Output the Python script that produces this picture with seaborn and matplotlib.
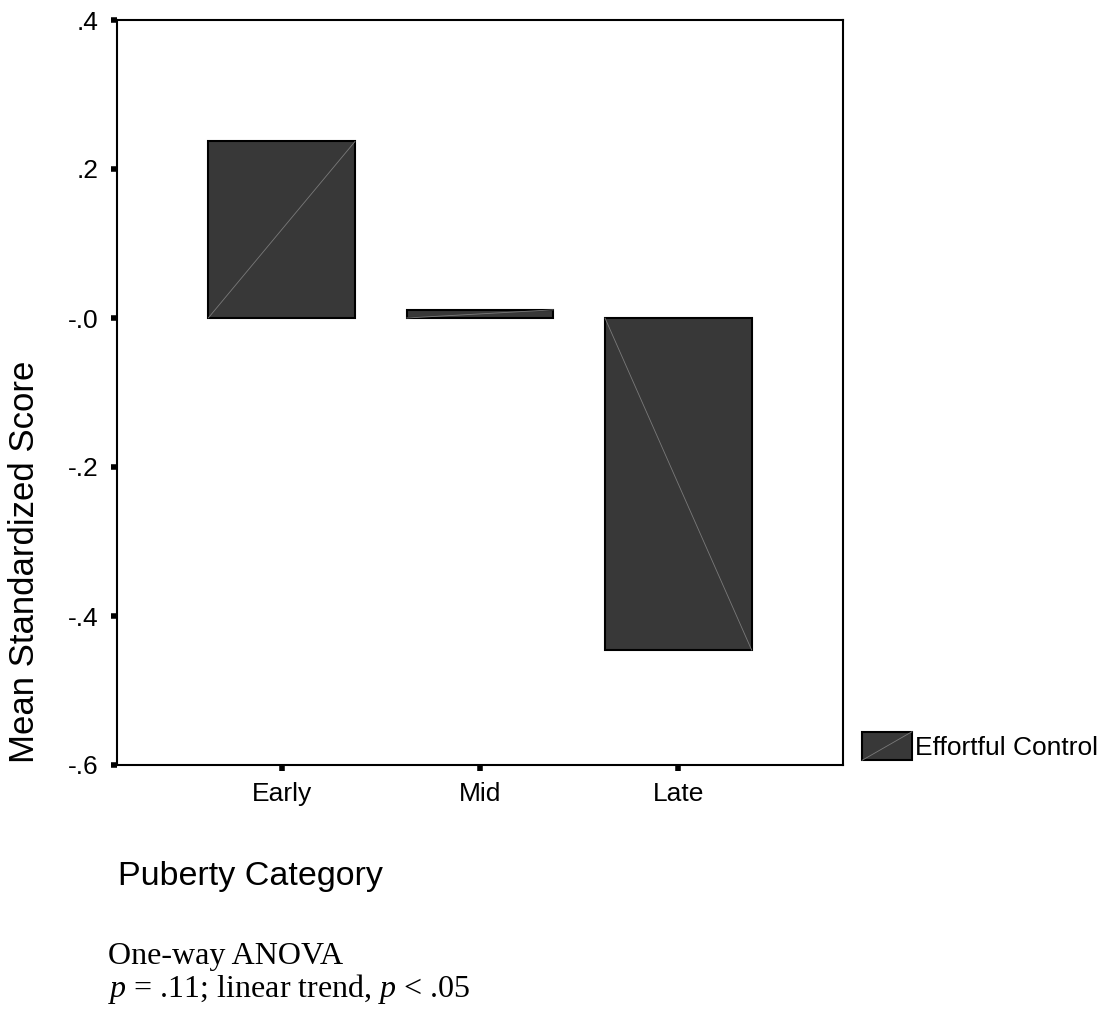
import matplotlib
matplotlib.use("Agg")
import matplotlib.pyplot as plt
import seaborn as sns
from matplotlib.legend_handler import HandlerBase
from matplotlib.patches import Rectangle
from matplotlib.lines import Line2D

# Data
categories = ["Early", "Mid", "Late"]
mean_scores = [0.237, 0.011, -0.446]
y_ticks = [-0.6, -0.4, -0.2, 0.0, 0.2, 0.4]
y_tick_labels = ["-.6", "-.4", "-.2", "-.0", ".2", ".4"]
series_label = "Effortful Control"

BAR_COLOR = "#383838"
DIAG_COLOR = "#7a7a7a"

sns.set_theme(style="white")
plt.rcParams["font.family"] = ["Liberation Sans", "DejaVu Sans"]
plt.rcParams["text.color"] = "black"
plt.rcParams["mathtext.fontset"] = "custom"
plt.rcParams["mathtext.rm"] = "Liberation Serif"
plt.rcParams["mathtext.it"] = "Liberation Serif:italic"


class DiagonalBoxHandler(HandlerBase):
    """Legend key: dark box with a thin diagonal, like the bars."""

    def create_artists(self, legend, orig_handle, xdescent, ydescent,
                       width, height, fontsize, trans):
        x0, y0 = -xdescent, -ydescent
        box = Rectangle((x0, y0), width, height, facecolor=BAR_COLOR,
                        edgecolor="black", linewidth=1.5, transform=trans)
        diag = Line2D([x0, x0 + width], [y0, y0 + height], color=DIAG_COLOR,
                      linewidth=0.6, transform=trans)
        return [box, diag]


W, H = 1105, 1015
fig = plt.figure(figsize=(W / 100, H / 100), dpi=100)
ax = fig.add_axes([117 / W, 1 - 765 / H, (843 - 117) / W, (765 - 20) / H])

sns.barplot(x=categories, y=mean_scores, color=BAR_COLOR, saturation=1,
            width=0.74, edgecolor="black", linewidth=1.5, errorbar=None, ax=ax)

# single diagonal stroke inside each bar
for bar, val in zip(ax.patches, mean_scores):
    x = bar.get_x()
    w = bar.get_width()
    ax.plot([x, x + w], [0, val], color=DIAG_COLOR, linewidth=0.6, zorder=3)

ax.set_xlim(-0.83, 2.83)
ax.set_ylim(-0.6, 0.4)
ax.set_yticks(y_ticks)
ax.set_yticklabels(y_tick_labels)
ax.set_xlabel("")
ax.set_ylabel("")

for spine in ax.spines.values():
    spine.set_visible(True)
    spine.set_color("black")
    spine.set_linewidth(1.5)

ax.tick_params(axis="both", direction="out", length=4, width=4, color="black",
               labelsize=19, labelcolor="black", bottom=True, left=True)
ax.tick_params(axis="y", pad=9)
ax.tick_params(axis="x", pad=8)

leg = ax.legend([ax.patches[0]], [series_label],
                handler_map={ax.patches[0]: DiagonalBoxHandler()},
                loc="center left", bbox_to_anchor=(862 / W, 1 - 746 / H),
                bbox_transform=fig.transFigure, frameon=False, fontsize=19,
                labelcolor="black", borderpad=0, borderaxespad=0,
                handlelength=1.9, handleheight=1.3, handletextpad=0.12)

fig.text(25 / W, 1 - 562 / H, "Mean Standardized Score", rotation=90,
         ha="center", va="center", fontsize=25, color="black")
fig.text(118 / W, 1 - 885 / H, "Puberty Category", ha="left",
         va="baseline", fontsize=24.5, color="black")

fig.text(108 / W, 1 - 964 / H, "One-way ANOVA", ha="left", va="baseline",
         fontsize=23, family="Liberation Serif", color="black")
fig.text(108 / W, 1 - 997 / H, r"$p$ = .11; linear trend, $p$ < .05",
         ha="left", va="baseline", fontsize=23, family="Liberation Serif",
         color="black")

fig.savefig("out.png", dpi=100)
